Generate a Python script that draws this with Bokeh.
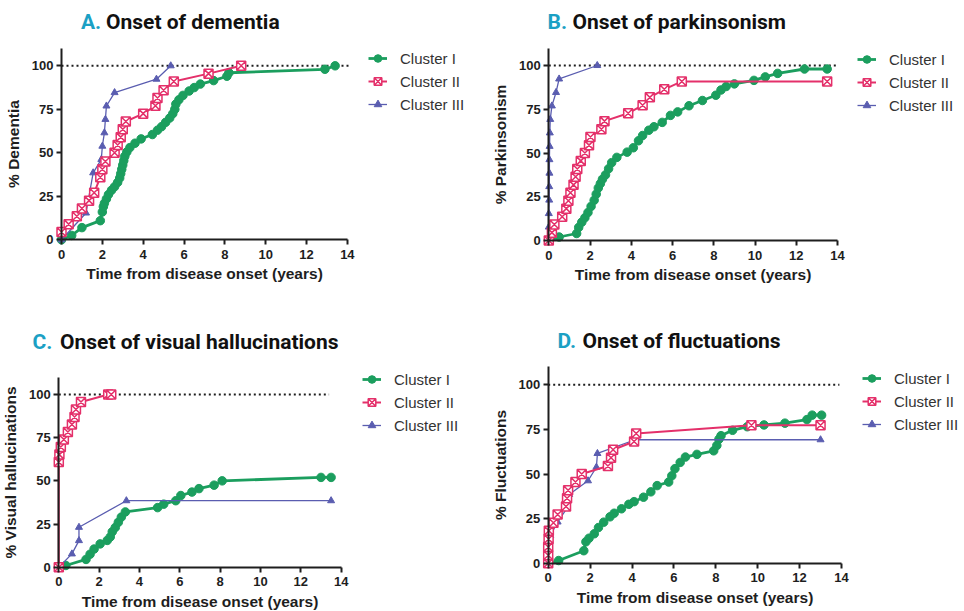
from bokeh.plotting import figure
from bokeh.layouts import column, row
from bokeh.models import Range1d, FixedTicker, Label, Legend, LegendItem
from bokeh.embed import file_html
from bokeh.resources import INLINE

# ---- data: cumulative % of patients reaching each milestone ----
TITLES = [("A.", "Onset of dementia"), ("B.", "Onset of parkinsonism"),
          ("C.", "Onset of visual hallucinations"), ("D.", "Onset of fluctuations")]
Y_LABELS = ["% Dementia", "% Parkinsonism", "% Visual hallucinations", "% Fluctuations"]
X_LABEL = "Time from disease onset (years)"
SERIES_NAMES = ["Cluster I", "Cluster II", "Cluster III"]
X_TICKS = [0, 2, 4, 6, 8, 10, 12, 14]
Y_TICKS = [0, 25, 50, 75, 100]

# A. dementia
a1_x = [0, 0.5, 1.0, 1.9, 2.0, 2.05, 2.1, 2.2, 2.3, 2.45, 2.6, 2.75, 2.85, 2.9, 2.95, 3.0, 3.05,
        3.1, 3.2, 3.35, 3.6, 3.9, 4.45, 4.7, 4.9, 5.1, 5.3, 5.45, 5.55, 5.6, 5.75, 5.95, 6.25,
        6.5, 6.8, 7.45, 8.1, 8.2, 12.9, 13.4]
a1_y = [0, 2.5, 7, 11, 16, 19, 21, 23.5, 26, 28.5, 30.5, 33, 35.5, 38, 40.5, 43, 45.5,
        48, 50.5, 53, 55.5, 58, 60.5, 63, 65, 67.5, 70, 72.5, 75, 78, 80.5, 83, 85.5,
        87.5, 89.5, 91.5, 94, 96, 98, 100]
a2_x = [0, 0.35, 0.75, 1.0, 1.35, 1.6, 1.9, 2.0, 2.15, 2.6, 2.75, 2.9, 3.0, 3.15, 4.0, 4.6,
        4.7, 5.0, 5.5, 7.2, 8.8]
a2_y = [4.5, 9, 13.5, 18, 22.5, 27, 36, 40.5, 45, 50, 54.5, 59, 63.5, 68, 72.5, 77,
        81.5, 86, 91, 95.5, 100]
a3_x = [0, 1.2, 1.55, 1.95, 2.0, 2.1, 2.15, 2.2, 2.6, 4.65, 5.35]
a3_y = [0, 15.4, 38.5, 46.2, 53.8, 61.5, 69.2, 76.9, 84.6, 92.3, 100]

# B. parkinsonism
b1_x = [0, 0.5, 1.35, 1.45, 1.6, 1.75, 1.9, 2.05, 2.2, 2.3, 2.4, 2.5, 2.6, 2.75, 2.9, 3.05,
        3.3, 3.8, 4.1, 4.35, 4.55, 4.85, 5.1, 5.5, 5.9, 6.25, 6.8, 7.45, 8.1, 8.35, 8.6, 9.0,
        9.95, 10.5, 11.1, 12.4, 13.5]
b1_y = [0, 2, 4, 7.5, 10.5, 13, 16, 19.5, 23, 26.5, 30, 32.5, 35, 37.5, 41, 44.5,
        47.5, 50.5, 53, 57, 60, 63, 65, 67.5, 71.5, 73.5, 77, 80, 83, 86, 88, 89.5,
        91.5, 93.5, 95.5, 98, 98]
b2_x = [0, 0.15, 0.27, 0.65, 0.85, 0.95, 1.05, 1.2, 1.3, 1.38, 1.55, 1.75, 1.95, 2.02, 2.55,
        2.7, 3.85, 4.55, 4.9, 5.6, 6.45, 13.5]
b2_y = [0, 4.5, 9.1, 13.6, 18.2, 22.7, 27.3, 31.8, 36.4, 40.9, 45.5, 50, 54.5, 59.1, 63.6,
        68.2, 72.7, 77.3, 81.8, 86.4, 90.9, 90.9]
b3_x = [0, 0, 0, 0.02, 0.02, 0.03, 0.03, 0.04, 0.05, 0.07, 0.15, 0.35, 0.5, 2.35]
b3_y = [0, 7.7, 15.4, 23.1, 30.8, 38.5, 46.2, 53.8, 61.5, 69.2, 76.9, 84.6, 92.3, 100]

# C. visual hallucinations
c1_x = [0, 0.35, 1.35, 1.55, 1.75, 2.05, 2.4, 2.55, 2.65, 2.8, 2.95, 3.1, 3.3, 4.9, 5.2, 5.8,
        6.05, 6.6, 6.95, 7.7, 8.1, 13.0, 13.5]
c1_y = [0, 1, 4.5, 7.5, 10.5, 13.5, 15.5, 17.5, 20.5, 23, 26, 29, 32, 34.5, 36.5, 38.5,
        41.5, 43.5, 45.5, 47.5, 50, 52, 52]
c2_x = [0, 0, 0.03, 0.1, 0.25, 0.45, 0.65, 0.78, 0.85, 1.1, 2.45, 2.6]
c2_y = [0, 60.9, 65.2, 69.6, 73.9, 78.3, 82.6, 87, 91.3, 95.7, 100, 100]
c3_x = [0, 0.65, 1.0, 1.0, 3.35, 13.5]
c3_y = [0, 7.7, 15.4, 23.1, 38.5, 38.5]

# D. fluctuations
d1_x = [0, 0.5, 1.7, 1.8, 1.95, 2.2, 2.4, 2.65, 2.95, 3.15, 3.5, 3.85, 4.1, 4.55, 4.9, 5.2,
        5.75, 5.9, 6.05, 6.3, 6.55, 7.1, 7.9, 8.05, 8.15, 8.25, 8.8, 9.5, 10.3, 11.3, 12.35,
        12.6, 13.05]
d1_y = [0, 1.5, 7, 12, 14, 16.5, 20, 23, 26, 28, 30.5, 33, 34.5, 37, 40, 43.5,
        45.5, 49, 53, 56.5, 59.5, 61, 63, 66, 69.5, 71.5, 74.5, 76.5, 77.5, 78.5, 80.5,
        83, 83]
d2_x = [0, 0, 0, 0.02, 0.03, 0.25, 0.45, 0.85, 0.9, 0.95, 1.3, 1.6, 2.85, 3.0, 3.1, 4.1, 4.2,
        9.7, 13.0]
d2_y = [0, 4.5, 9.1, 13.6, 18.2, 22.7, 27.3, 31.8, 36.4, 40.9, 45.5, 50, 54.5, 59.1, 63.6,
        68.2, 72.7, 77.3, 77.3]
d3_x = [0, 0.1, 0.45, 0.9, 1.0, 1.9, 2.3, 2.35, 4.15, 13.0]
d3_y = [0, 15.4, 23.1, 30.8, 38.5, 46.2, 53.8, 61.5, 69.2, 69.2]

PANELS = [
    [(a1_x, a1_y), (a2_x, a2_y), (a3_x, a3_y)],
    [(b1_x, b1_y), (b2_x, b2_y), (b3_x, b3_y)],
    [(c1_x, c1_y), (c2_x, c2_y), (c3_x, c3_y)],
    [(d1_x, d1_y), (d2_x, d2_y), (d3_x, d3_y)],
]
REF_END = [14.1, 14.0, 13.4, 13.9]   # where the dotted 100 % guide stops

# ---- styling ----
GREEN, PINK, BLUE, TEAL = "#1b9e5e", "#e4306a", "#5a5db0", "#1ba0c4"
INK = "#1e1e1e"
TICK_FONT = "Liberation Sans"
TITLE_FONT = "Roboto"

# Each panel's plotting frame fills its whole canvas, so axes, legend and
# heading all live inside it.  ox/oy: pixel of the origin (from the canvas
# top-left), sx/sy: pixels per year / per percent.
# Heading (ty, tx1, tx2) and legend (lx, ly) are canvas pixels from bottom-left.
GEOM = [
    dict(w=482, h=305, ox=61.0, oy=239.3, sx=20.42, sy=1.740,
         ty=283.3, tx1=80.5, tx2=105.5, lx=368, ly=191),
    dict(w=482, h=305, ox=66.3, oy=240.0, sx=20.62, sy=1.750,
         ty=283.3, tx1=65, tx2=90, lx=375, ly=190),
    dict(w=482, h=306, ox=58.3, oy=261.7, sx=20.17, sy=1.727,
         ty=269.3, tx1=32, tx2=59.5, lx=362, ly=176),
    dict(w=482, h=306, ox=65.7, oy=257.7, sx=20.95, sy=1.784,
         ty=271, tx1=75, tx2=100, lx=380, ly=177),
]


def make_panel(i):
    g = GEOM[i]
    x_range = Range1d(-g["ox"] / g["sx"], (g["w"] - g["ox"]) / g["sx"])
    y_range = Range1d(-(g["h"] - g["oy"]) / g["sy"], g["oy"] / g["sy"])
    p = figure(width=g["w"], height=g["h"], output_backend="svg", toolbar_location=None,
               x_range=x_range, y_range=y_range, min_border=0)
    p.outline_line_color = None
    p.xgrid.visible = False
    p.ygrid.visible = False
    p.background_fill_color = "white"
    p.border_fill_color = "white"

    for ax, ticks, bounds in ((p.xaxis[0], X_TICKS, (0, 14)), (p.yaxis[0], Y_TICKS, (0, 110))):
        ax.fixed_location = 0
        ax.bounds = bounds
        ax.ticker = FixedTicker(ticks=ticks)
        ax.axis_line_width = 2
        ax.axis_line_color = INK
        ax.major_tick_line_width = 2
        ax.major_tick_line_color = INK
        ax.major_tick_out = 5
        ax.major_tick_in = 0
        ax.minor_tick_line_color = None
        ax.major_label_text_font = TICK_FONT
        ax.major_label_text_font_style = "bold"
        ax.major_label_text_font_size = "13px"
        ax.major_label_text_color = INK
        ax.axis_label_text_font = TICK_FONT
        ax.axis_label_text_font_style = "bold"
        ax.axis_label_text_font_size = "15.5px"
        ax.axis_label_text_color = INK
    p.xaxis[0].axis_label = X_LABEL
    p.yaxis[0].axis_label = Y_LABELS[i]
    p.xaxis[0].major_label_standoff = 5
    p.yaxis[0].major_label_standoff = 3
    p.xaxis[0].axis_label_standoff = 3
    p.yaxis[0].axis_label_standoff = 7

    # dotted 100 % guide
    p.segment(x0=[0], y0=[100], x1=[REF_END[i]], y1=[100], line_color=INK,
              line_width=2, line_dash="2 3")

    (x1, y1), (x2, y2), (x3, y3) = PANELS[i]
    l1 = p.line(x1, y1, line_color=GREEN, line_width=2.8)
    s1 = p.scatter(x1, y1, marker="circle", size=8.5, fill_color=GREEN, line_color=GREEN)
    l3 = p.line(x3, y3, line_color=BLUE, line_width=1.3)
    s3 = p.scatter(x3, y3, marker="triangle", size=7, fill_color=BLUE, line_color=BLUE)
    l2 = p.line(x2, y2, line_color=PINK, line_width=2)
    s2 = p.scatter(x2, y2, marker="square_x", size=9, fill_color="white",
                   line_color=PINK, line_width=1.5)

    legend = Legend(items=[LegendItem(label=SERIES_NAMES[0], renderers=[l1, s1]),
                           LegendItem(label=SERIES_NAMES[1], renderers=[l2, s2]),
                           LegendItem(label=SERIES_NAMES[2], renderers=[l3, s3])],
                    location=(g["lx"], g["ly"]), padding=0, margin=0, spacing=3,
                    glyph_width=19, glyph_height=20, label_height=20, label_standoff=13,
                    label_text_font=TICK_FONT, label_text_font_size="15px",
                    label_text_color="#333333", border_line_color=None,
                    background_fill_alpha=0)
    p.add_layout(legend, "center")

    tag, text = TITLES[i]
    for t, x, c in ((tag, g["tx1"], TEAL), (text, g["tx2"], "#111111")):
        p.add_layout(Label(x=x, y=g["ty"], x_units="screen", y_units="screen", text=t,
                           text_font=TITLE_FONT, text_font_style="bold",
                           text_font_size="21px", text_color=c, text_baseline="middle"))
    return p


figs = [make_panel(i) for i in range(4)]
layout = column(row(figs[0], figs[1], spacing=0), row(figs[2], figs[3], spacing=0), spacing=0)

with open("out.html", "w") as f:
    f.write(file_html(layout, INLINE))
